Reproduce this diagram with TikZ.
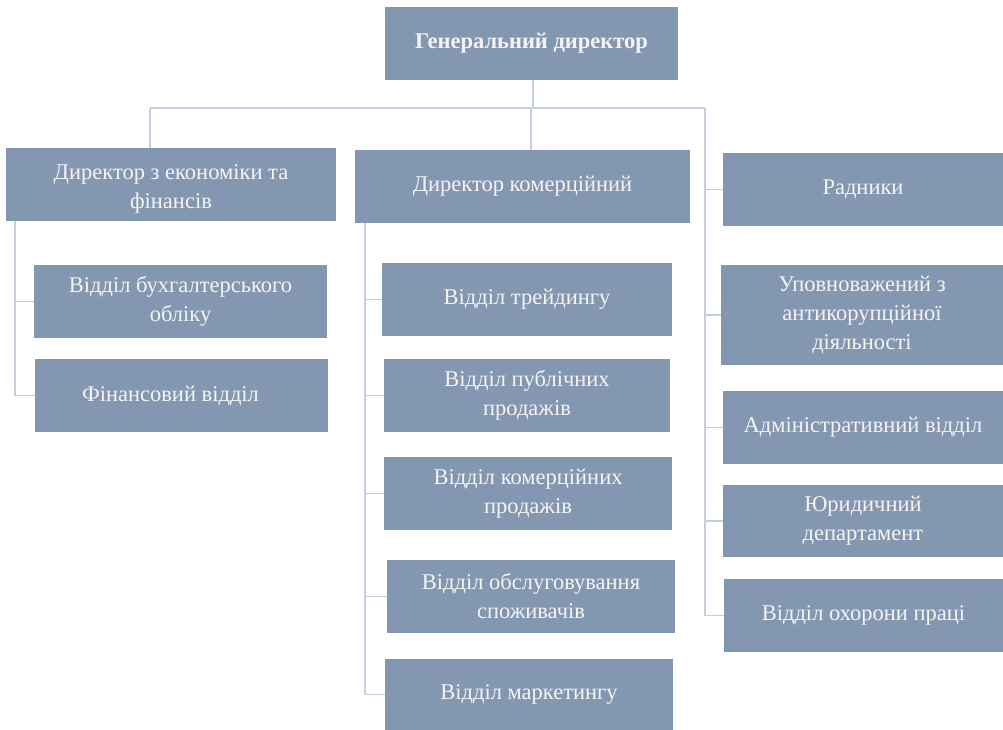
\documentclass[tikz,border=0pt]{standalone}
\usepackage{fontspec}
\setmainfont{Liberation Serif}
\definecolor{boxfill}{HTML}{8497B0}
\definecolor{linec}{HTML}{C5CEE0}
\definecolor{txt}{HTML}{F4F4F4}
\tikzset{
  unitbox/.style={fill=boxfill, text=txt, align=center, inner sep=0pt,
    font=\fontsize{22.5}{29}\selectfont},
  conn/.style={draw=linec, line width=1.6pt},
}
\newcommand{\ubox}[6]{% name, x1, y1, x2, y2, text
  \node[unitbox, minimum width={(#4-#2)*1pt}, minimum height={(#5-#3)*1pt}] (#1) at ({(#2+#4)/2},{(#3+#5)/2}) {#6};}
\begin{document}
\begin{tikzpicture}[x=1pt,y=-1pt]
\useasboundingbox (0,0) rectangle (1003,730);
% boxes
\ubox{gen}{385}{7}{678}{80}{\bfseries Генеральний директор}
\ubox{econ}{6}{148}{336}{221}{\rule{0pt}{24pt}Директор з економіки та\\фінансів}
\ubox{com}{355}{150}{690}{223}{Директор комерційний}
\ubox{rad}{723}{153}{1003}{226}{Радники}
\ubox{anti}{721}{265}{1003}{365}{Уповноважений з\\антикорупційної\\діяльності}
\ubox{adm}{723}{391}{1003}{464}{Адміністративний відділ}
\ubox{jur}{723}{485}{1003}{557}{Юридичний\\департамент}
\ubox{ohor}{724}{579}{1003}{652}{Відділ охорони праці}
\ubox{buh}{34}{265}{327}{338}{Відділ бухгалтерського\\обліку}
\ubox{fin}{35}{359}{328}{432}{Фінансовий відділ\hspace*{22pt}}
\ubox{trd}{382}{263}{672}{336}{Відділ трейдингу}
\ubox{pub}{384}{359}{670}{432}{Відділ публічних\\продажів}
\ubox{kom}{384}{457}{672}{530}{Відділ комерційних\\продажів}
\ubox{obs}{387}{560}{675}{633}{Відділ обслуговування\\споживачів}
\ubox{mar}{385}{659}{673}{730}{Відділ маркетингу}
% connectors
\coordinate (hub) at (533,108);
\coordinate (hl) at (150,108);
\coordinate (hm) at (531,108);
\coordinate (hr) at (705,108);
\coordinate (ls) at (15,221);
\coordinate (ms) at (365,223);
\draw[conn] (gen.south -| hub) -- (hub);
\draw[conn] (hl) -- (hr);
\draw[conn] (hl) -- (hl |- econ.north);
\draw[conn] (hm) -- (hm |- com.north);
\draw[conn] (hr) |- (rad.west);
\draw[conn] (hr) |- (anti.west);
\draw[conn] (hr) |- (adm.west);
\draw[conn] (hr) |- (jur.west);
\draw[conn] (hr) |- (ohor.west);
\draw[conn] (ls) |- (buh.west);
\draw[conn] (ls) |- (fin.west);
\draw[conn] (ms) |- (trd.west);
\draw[conn] (ms) |- (pub.west);
\draw[conn] (ms) |- (kom.west);
\draw[conn] (ms) |- (obs.west);
\draw[conn] (ms) |- (mar.west);
\end{tikzpicture}
\end{document}
